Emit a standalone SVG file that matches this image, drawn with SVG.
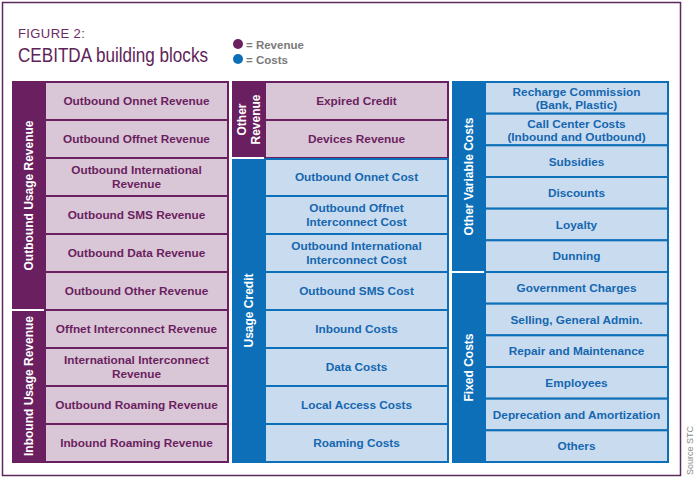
<svg xmlns="http://www.w3.org/2000/svg" width="697" height="484" viewBox="0 0 697 484">
<style>
text{font-family:"Liberation Sans",Arial,sans-serif;}
.pc{fill:#d9c6d6;stroke:#6a1f60;stroke-width:2;}
.bc{fill:#c9dbef;stroke:#0d6fb8;stroke-width:2;}
.pb{fill:#6a1f60;}
.bb{fill:#0d6fb8;}
.pt{fill:#6a1f60;font-weight:bold;font-size:11.8px;text-anchor:middle;}
.bt{fill:#1467b0;font-weight:bold;font-size:11.8px;text-anchor:middle;}
.lab{fill:#ffffff;font-weight:bold;font-size:12px;text-anchor:middle;}
.leg{fill:#7a7a7a;font-weight:bold;font-size:11.5px;}
</style>
<rect x="0" y="0" width="697" height="484" fill="#ffffff"/>
<rect x="2.5" y="2.5" width="678" height="473" fill="none" stroke="#5e2a5e" stroke-width="1.5"/>
<g id="title">
<text x="18" y="38" font-size="13" letter-spacing="0.4" fill="#6b2a63">FIGURE 2:</text>
<text x="18" y="62" font-size="20" fill="#5e2358" textLength="190" lengthAdjust="spacingAndGlyphs">CEBITDA building blocks</text>
</g>
<g id="legend">
<circle cx="238" cy="44" r="5" fill="#6a1f60"/>
<text class="leg" x="246" y="48.5">= Revenue</text>
<circle cx="238" cy="59" r="5" fill="#0d6fb8"/>
<text class="leg" x="246" y="63.5">= Costs</text>
</g>
<text x="693" y="475" font-size="9" fill="#8a8a8a" transform="rotate(-90 693 475)">Source STC</text>

<!-- Column 1 -->
<g id="c1r1"><rect class="pc" x="45" y="82" width="183" height="38"/><text class="pt" x="136.5" y="105">Outbound Onnet Revenue</text></g>
<g id="c1r2"><rect class="pc" x="45" y="120" width="183" height="38"/><text class="pt" x="136.5" y="143">Outbound Offnet Revenue</text></g>
<g id="c1r3"><rect class="pc" x="45" y="158" width="183" height="38"/><text class="pt" x="136.5" y="174">Outbound International</text><text class="pt" x="136.5" y="188">Revenue</text></g>
<g id="c1r4"><rect class="pc" x="45" y="196" width="183" height="38"/><text class="pt" x="136.5" y="219">Outbound SMS Revenue</text></g>
<g id="c1r5"><rect class="pc" x="45" y="234" width="183" height="38"/><text class="pt" x="136.5" y="257">Outbound Data Revenue</text></g>
<g id="c1r6"><rect class="pc" x="45" y="272" width="183" height="38"/><text class="pt" x="136.5" y="295">Outbound Other Revenue</text></g>
<g id="c1r7"><rect class="pc" x="45" y="310" width="183" height="38"/><text class="pt" x="136.5" y="333">Offnet Interconnect Revenue</text></g>
<g id="c1r8"><rect class="pc" x="45" y="348" width="183" height="38"/><text class="pt" x="136.5" y="364">International Interconnect</text><text class="pt" x="136.5" y="378">Revenue</text></g>
<g id="c1r9"><rect class="pc" x="45" y="386" width="183" height="38"/><text class="pt" x="136.5" y="409">Outbound Roaming Revenue</text></g>
<g id="c1r10"><rect class="pc" x="45" y="424" width="183" height="38"/><text class="pt" x="136.5" y="447">Inbound Roaming Revenue</text></g>
<g id="bar-outbound-usage"><rect class="pb" x="12" y="81" width="33" height="228"/><text class="lab" transform="translate(28.5 195.5) rotate(-90)" x="0" y="4.5">Outbound Usage Revenue</text></g>
<g id="bar-inbound-usage"><rect class="pb" x="12" y="311" width="33" height="152"/><text class="lab" transform="translate(28.5 386) rotate(-90)" x="0" y="4.5">Inbound Usage Revenue</text></g>

<!-- Column 2 -->
<g id="c2r1"><rect class="pc" x="265" y="82" width="183" height="38"/><text class="pt" x="356.5" y="105">Expired Credit</text></g>
<g id="c2r2"><rect class="pc" x="265" y="120" width="183" height="38"/><text class="pt" x="356.5" y="143">Devices Revenue</text></g>
<g id="c2r3"><rect class="bc" x="265" y="159" width="183" height="37"/><text class="bt" x="356.5" y="181">Outbound Onnet Cost</text></g>
<g id="c2r4"><rect class="bc" x="265" y="196" width="183" height="38"/><text class="bt" x="356.5" y="212">Outbound Offnet</text><text class="bt" x="356.5" y="226">Interconnect Cost</text></g>
<g id="c2r5"><rect class="bc" x="265" y="234" width="183" height="38"/><text class="bt" x="356.5" y="250">Outbound International</text><text class="bt" x="356.5" y="264">Interconnect Cost</text></g>
<g id="c2r6"><rect class="bc" x="265" y="272" width="183" height="38"/><text class="bt" x="356.5" y="295">Outbound SMS Cost</text></g>
<g id="c2r7"><rect class="bc" x="265" y="310" width="183" height="38"/><text class="bt" x="356.5" y="333">Inbound Costs</text></g>
<g id="c2r8"><rect class="bc" x="265" y="348" width="183" height="38"/><text class="bt" x="356.5" y="371">Data Costs</text></g>
<g id="c2r9"><rect class="bc" x="265" y="386" width="183" height="38"/><text class="bt" x="356.5" y="409">Local Access Costs</text></g>
<g id="c2r10"><rect class="bc" x="265" y="424" width="183" height="38"/><text class="bt" x="356.5" y="447">Roaming Costs</text></g>
<g id="bar-other-revenue"><rect class="pb" x="232" y="81" width="33" height="76"/><text class="lab" transform="translate(248.5 119.5) rotate(-90)" x="0" y="-2.5">Other</text><text class="lab" transform="translate(248.5 119.5) rotate(-90)" x="0" y="11">Revenue</text></g>
<g id="bar-usage-credit"><rect class="bb" x="232" y="159" width="33" height="304"/><text class="lab" transform="translate(248.5 310.5) rotate(-90)" x="0" y="4.5">Usage Credit</text></g>

<!-- Column 3 -->
<g id="c3r1"><rect class="bc" x="485" y="82" width="183" height="31.67"/><text class="bt" x="576.5" y="96">Recharge Commission</text><text class="bt" x="576.5" y="109">(Bank, Plastic)</text></g>
<g id="c3r2"><rect class="bc" x="485" y="113.67" width="183" height="31.67"/><text class="bt" x="576.5" y="127.7">Call Center Costs</text><text class="bt" x="576.5" y="140.7">(Inbound and Outbound)</text></g>
<g id="c3r3"><rect class="bc" x="485" y="145.33" width="183" height="31.67"/><text class="bt" x="576.5" y="165.5">Subsidies</text></g>
<g id="c3r4"><rect class="bc" x="485" y="177" width="183" height="31.67"/><text class="bt" x="576.5" y="197">Discounts</text></g>
<g id="c3r5"><rect class="bc" x="485" y="208.67" width="183" height="31.67"/><text class="bt" x="576.5" y="228.7">Loyalty</text></g>
<g id="c3r6"><rect class="bc" x="485" y="240.33" width="183" height="31.67"/><text class="bt" x="576.5" y="260.4">Dunning</text></g>
<g id="c3r7"><rect class="bc" x="485" y="272" width="183" height="31.67"/><text class="bt" x="576.5" y="292">Government Charges</text></g>
<g id="c3r8"><rect class="bc" x="485" y="303.67" width="183" height="31.67"/><text class="bt" x="576.5" y="323.7">Selling, General Admin.</text></g>
<g id="c3r9"><rect class="bc" x="485" y="335.33" width="183" height="31.67"/><text class="bt" x="576.5" y="355.4">Repair and Maintenance</text></g>
<g id="c3r10"><rect class="bc" x="485" y="367" width="183" height="31.67"/><text class="bt" x="576.5" y="387">Employees</text></g>
<g id="c3r11"><rect class="bc" x="485" y="398.67" width="183" height="31.67"/><text class="bt" x="576.5" y="418.7">Deprecation and Amortization</text></g>
<g id="c3r12"><rect class="bc" x="485" y="430.33" width="183" height="31.67"/><text class="bt" x="576.5" y="450.4">Others</text></g>
<g id="bar-other-variable"><rect class="bb" x="452" y="81" width="33" height="190"/><text class="lab" transform="translate(468.5 176.5) rotate(-90)" x="0" y="4.5">Other Variable Costs</text></g>
<g id="bar-fixed"><rect class="bb" x="452" y="273" width="33" height="190"/><text class="lab" transform="translate(468.5 367.5) rotate(-90)" x="0" y="4.5">Fixed Costs</text></g>
</svg>
